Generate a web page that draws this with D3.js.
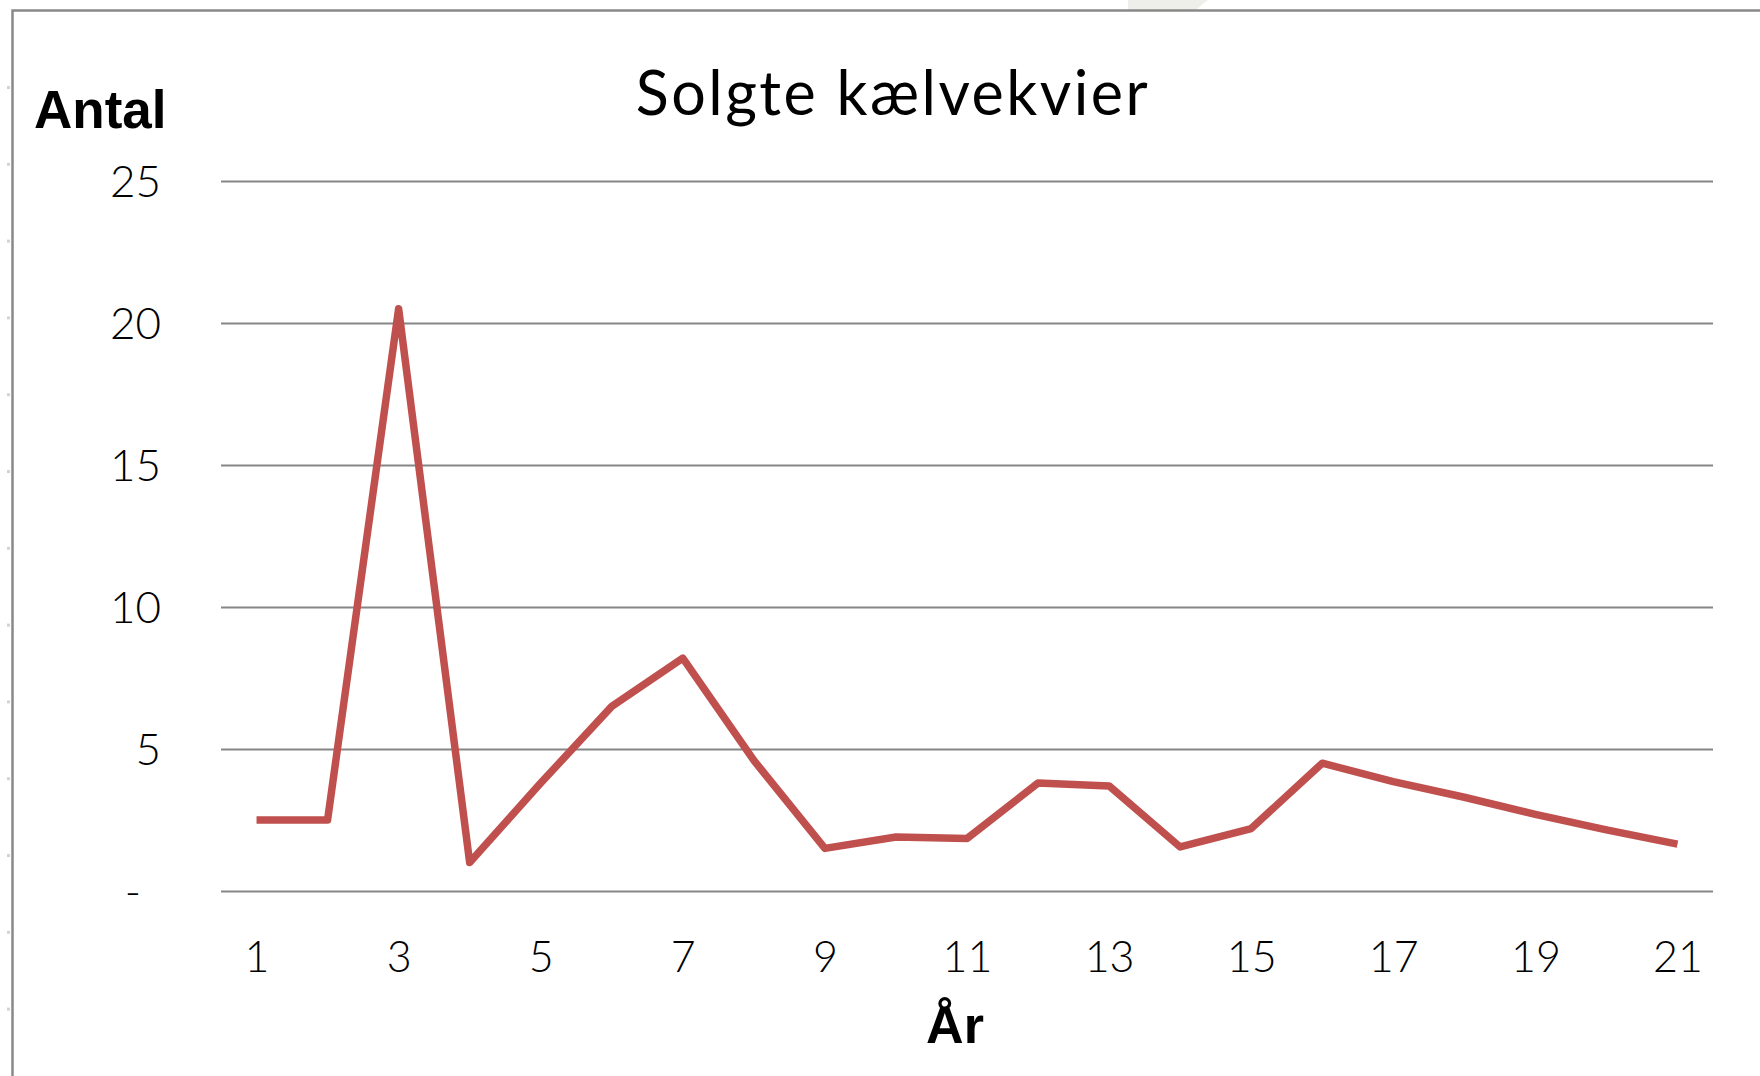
<!DOCTYPE html>
<html>
<head>
<meta charset="utf-8">
<script src="https://cdn.jsdelivr.net/npm/d3@7"></script>
<style>
  html, body { margin: 0; padding: 0; background: #fff; }
  svg { display: block; }
  .tick-label { font-family: Lato, "Open Sans", sans-serif; font-weight: 300; fill: #000; }
</style>
</head>
<body>
<svg id="chart" width="1760" height="1076"></svg>
<script>
// ── Data ─────────────────────────────────────────────────────────────────────
const years      = [1, 2, 3, 4, 5, 6, 7, 8, 9, 10, 11, 12, 13, 14, 15, 16, 17, 18, 19, 20, 21];
const sold       = [2.5, 2.5, 20.5, 1, 3.8, 6.5, 8.2, 4.6, 1.5, 1.9, 1.85, 3.8, 3.7, 1.55, 2.2, 4.5, 3.85, 3.3, 2.7, 2.15, 1.65];
const yTicks     = [0, 5, 10, 15, 20, 25];
const xTickYears = [1, 3, 5, 7, 9, 11, 13, 15, 17, 19, 21];

const TITLE   = 'Solgte kælvekvier';
const Y_LABEL = 'Antal';
const X_LABEL = 'År';

// ── Layout ───────────────────────────────────────────────────────────────────
const PLOT_LEFT   = 221;
const PLOT_RIGHT  = 1713;
const PLOT_TOP    = 181;
const PLOT_BOTTOM = 891;
const GRID_COLOR  = '#868686';
const LINE_COLOR  = '#C0504D';

const svg = d3.select('#chart');

// faint page ruler marks + frame
svg.append('g').selectAll('rect')
  .data(d3.range(87, 1076, 76.8))
  .join('rect')
  .attr('x', 7).attr('y', d => d - 1)
  .attr('width', 3).attr('height', 3)
  .attr('fill', '#cdd4df');

svg.append('path')
  .attr('d', 'M1128,0 L1208,0 Q1200,6 1196,10 L1128,10 Z')
  .attr('fill', '#eeeeea');

svg.append('path')
  .attr('d', 'M12.5,1080 L12.5,10.5 L1765,10.5')
  .attr('fill', 'none')
  .attr('stroke', '#898989')
  .attr('stroke-width', 2.5);

// ── Scales ───────────────────────────────────────────────────────────────────
const x = d3.scalePoint()
  .domain(years)
  .range([PLOT_LEFT, PLOT_RIGHT])
  .padding(0.5);

const y = d3.scaleLinear()
  .domain([0, 25])
  .range([PLOT_BOTTOM, PLOT_TOP]);

// ── Y axis + gridlines ───────────────────────────────────────────────────────
const yAxis = svg.append('g')
  .attr('transform', `translate(${PLOT_LEFT},0)`)
  .call(d3.axisLeft(y)
    .tickValues(yTicks)
    .tickSize(-(PLOT_RIGHT - PLOT_LEFT))
    .tickPadding(60)
    .tickFormat(d => d === 0 ? '-' : d));

yAxis.select('.domain').remove();
yAxis.selectAll('.tick line')
  .attr('stroke', GRID_COLOR)
  .attr('stroke-width', 2.2);
yAxis.selectAll('.tick text')
  .attr('class', 'tick-label')
  .attr('font-size', 44)
  .attr('dy', '0.36em')
  .filter(d => d === 0)
  .attr('x', 141 - PLOT_LEFT);

// ── X axis labels ────────────────────────────────────────────────────────────
const xAxis = svg.append('g')
  .attr('transform', `translate(0,${PLOT_BOTTOM})`)
  .call(d3.axisBottom(x).tickValues(xTickYears).tickSize(0));

xAxis.select('.domain').remove();
xAxis.selectAll('.tick text')
  .attr('class', 'tick-label')
  .attr('font-size', 43)
  .attr('y', 81)
  .attr('dy', 0);

// ── Series ───────────────────────────────────────────────────────────────────
const line = d3.line()
  .x((d, i) => x(years[i]))
  .y(d => y(d));

svg.append('path')
  .datum(sold)
  .attr('d', line)
  .attr('fill', 'none')
  .attr('stroke', LINE_COLOR)
  .attr('stroke-width', 7.5)
  .attr('stroke-linejoin', 'round');

// ── Titles ───────────────────────────────────────────────────────────────────
svg.append('text')
  .attr('x', 893).attr('y', 115)
  .attr('text-anchor', 'middle')
  .attr('font-family', 'Lato, "Open Sans", sans-serif')
  .attr('font-size', 61)
  .attr('letter-spacing', 2.5)
  .attr('fill', '#000')
  .text(TITLE);

svg.append('text')
  .attr('x', 34).attr('y', 128)
  .attr('font-family', '"Liberation Sans", Arial, sans-serif')
  .attr('font-weight', 'bold')
  .attr('font-size', 53)
  .attr('fill', '#000')
  .text(Y_LABEL);

svg.append('text')
  .attr('x', 955).attr('y', 1043)
  .attr('text-anchor', 'middle')
  .attr('font-family', '"Liberation Sans", Arial, sans-serif')
  .attr('font-weight', 'bold')
  .attr('font-size', 52)
  .attr('fill', '#000')
  .text(X_LABEL);
</script>
</body>
</html>
